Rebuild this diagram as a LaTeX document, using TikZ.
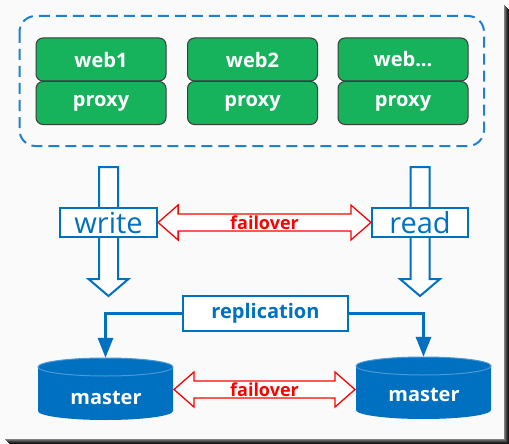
\documentclass[tikz,border=0pt]{standalone}
\usepackage{fontspec}
\setmainfont{Open Sans}
\usetikzlibrary{calc,arrows.meta}
\definecolor{bg}{HTML}{FAFAFA}
\definecolor{mblue}{HTML}{0070C0}
\definecolor{dblue}{HTML}{1F80D2}
\definecolor{lblue}{HTML}{4A98D8}
\definecolor{grn}{HTML}{17B35C}
\definecolor{gborder}{HTML}{3C3C3C}
\definecolor{fored}{HTML}{FF0000}
\tikzset{
  gbox/.style={draw=gborder, line width=1pt, fill=grn, rounded corners=7pt,
    minimum width=130pt, minimum height=43pt, inner sep=0pt,
    text=white, font=\bfseries\fontsize{20}{20}\selectfont},
  bbox/.style={draw=mblue, line width=2.2pt, fill=white, inner sep=0pt,
    text=mblue},
  rw/.style={bbox, font=\fontsize{29}{29}\selectfont},
  fo/.style={draw=fored, line width=1.3pt, fill=white, line join=miter},
  folabel/.style={text=fored, font=\bfseries\fontsize{18}{18}\selectfont, inner sep=0pt},
  blk/.style={draw=mblue, line width=2pt, fill=white, line join=miter},
  conn/.style={draw=mblue, line width=3pt, -{Triangle[length=20pt,width=15pt]}},
  mlabel/.style={text=white, font=\bfseries\fontsize{20}{20}\selectfont, inner sep=0pt},
  mspan/.style={minimum width=135pt, minimum height=62pt, inner sep=0pt},
}
\newcommand{\hdbl}[2]{%
  \draw[fo] (#1) -- ($(#1)+(20,-17.5)$) -- ($(#1)+(20,-8.5)$) -- ($(#2)+(-20,-8.5)$)
    -- ($(#2)+(-20,-17.5)$) -- (#2) -- ($(#2)+(-20,17.5)$) -- ($(#2)+(-20,8.5)$)
    -- ($(#1)+(20,8.5)$) -- ($(#1)+(20,17.5)$) -- cycle;}
\newcommand{\vdown}[2]{%
  \draw[blk] ($(#1)+(-9.5,0)$) -- ($(#1)+(9.5,0)$) -- ($(#2)+(9.5,-17)$) -- ($(#2)+(20,-17)$)
    -- (#2) -- ($(#2)+(-20,-17)$) -- ($(#2)+(-9.5,-17)$) -- cycle;}
\newcommand{\cyl}[4]{% left x, right x, top-ellipse centre y, bottom-ellipse centre y
  \pgfmathsetmacro{\rx}{(#2-#1)/2}
  \fill[mblue] (#1,#3) -- (#1,#4) arc[start angle=180, end angle=0, x radius=\rx, y radius=9]
    -- (#2,#3) arc[start angle=0, end angle=-180, x radius=\rx, y radius=9] -- cycle;
  \draw[lblue, line width=1pt] (#1+\rx,#3) ellipse[x radius=\rx, y radius=9];}
\begin{document}
\begin{tikzpicture}[x=1pt,y=-1pt]
\useasboundingbox (0,0) rectangle (509,444);
% page background and shadow
\fill[white] (0,0) rectangle (509,444);
\fill[bg] (0,0) rectangle (504,439);
\foreach \i/\g in {0/50,1/62,2/74,3/84,4/92}{
  \fill[black!\g!white] (504+\i,5+\i) rectangle (505+\i,444);
  \fill[black!\g!white] (5+\i,439+\i) rectangle (509,440+\i);
}
% container
\draw[dblue, line width=2pt, dash pattern=on 11pt off 6pt, rounded corners=16pt]
  (19.5,16) rectangle (484,146);
% servers
\node[gbox] (web1) at (101,59.5) {web1};
\node[gbox] (proxy1) at (101,103) {proxy};
\node[gbox] (web2) at (252.5,59.5) {web2};
\node[gbox] (proxy2) at (252.5,103) {proxy};
\node[gbox] (web3) at (403,59.5) {web...};
\node[gbox] (proxy3) at (403,103) {proxy};
% vertical block arrows
\coordinate (wtop) at (108.5,167);
\coordinate (wtip) at (108.5,296);
\coordinate (rtop) at (420,167);
\coordinate (rtip) at (420,296);
\vdown{wtop}{wtip}
\vdown{rtop}{rtip}
% write / read
\node[rw, minimum width=97pt, minimum height=29pt] (write) at (108.5,222.5) {write};
\node[rw, minimum width=96pt, minimum height=29pt] (read) at (420,222.5) {read};
\hdbl{write.east}{read.west}
\node[folabel] (fo1) at ($(write.east)!0.5!(read.west)$) {failover};
% replication
\node[bbox, minimum width=165pt, minimum height=35pt,
  font=\bfseries\fontsize{20}{20}\selectfont] (repl) at (265.5,313.5) {replication};
% masters
\cyl{38}{173}{367}{411}
\cyl{356}{491}{366}{410}
\node[mspan] (m1) at (105.5,389) {};
\node[mspan] (m2) at (423.5,388) {};
\node[mlabel] (m1t) at (106,398) {master};
\node[mlabel] (m2t) at (424,395) {master};
\draw[conn] (repl.west) -| (m1.north);
\draw[conn] (repl.east) -| (m2.north);
\coordinate (fl) at (174,389.5);
\coordinate (fr) at (355,389.5);
\hdbl{fl}{fr}
\node[folabel] (fo2) at ($(fl)!0.5!(fr)$) {failover};
\end{tikzpicture}
\end{document}
